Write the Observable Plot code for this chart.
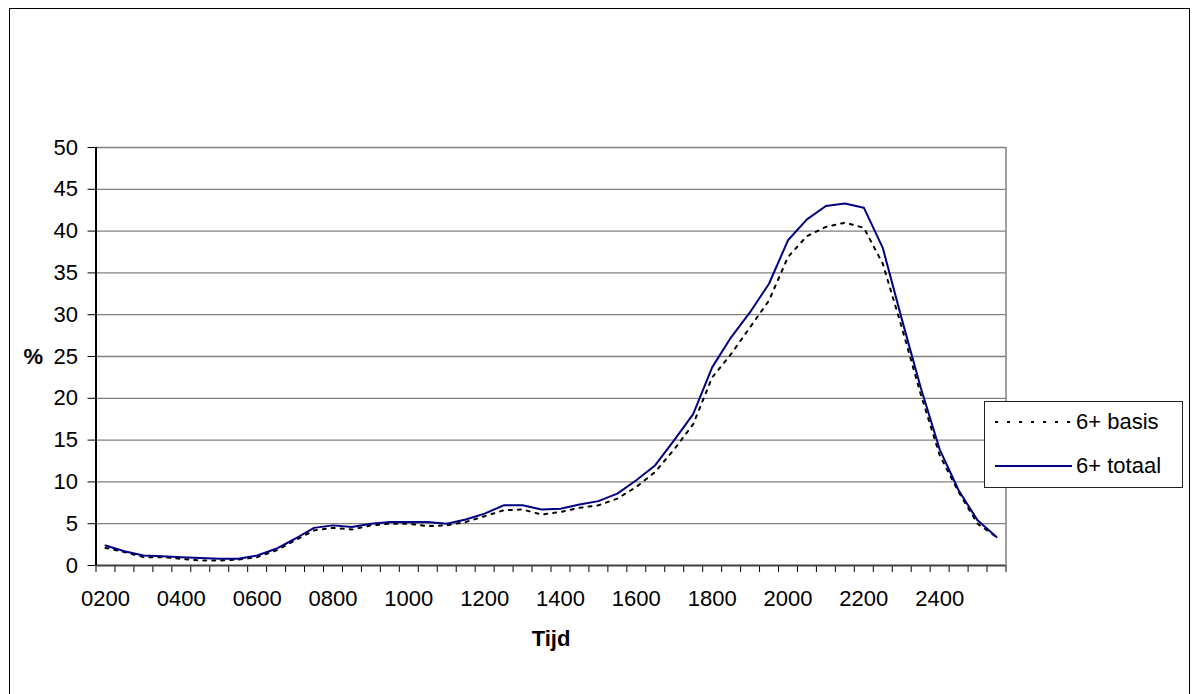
<!DOCTYPE html>
<html>
<head>
<meta charset="utf-8">
<script src="https://cdn.jsdelivr.net/npm/d3@7"></script>
<script src="https://cdn.jsdelivr.net/npm/@observablehq/plot@0.6"></script>
<style>
  html, body { margin: 0; padding: 0; background: #fff; }
  #wrap { position: relative; width: 1194px; height: 694px; overflow: hidden; font-family: "Liberation Sans", Arial, sans-serif; }
  #frame { position: absolute; left: 9px; top: 8px; width: 1181px; height: 700px; border: 1px solid #000; box-sizing: border-box; }
  #chart { position: absolute; left: 0; top: 0; }
  #legend { position: absolute; left: 984px; top: 401px; width: 199px; height: 87px; border: 1px solid #222; background: #fff; box-sizing: border-box; font-size: 22px; color: #000; }
  .item { position: absolute; left: 0; height: 30px; display: flex; align-items: center; }
  .item svg { margin-left: 10px; margin-right: 4px; }
</style>
</head>
<body>
<div id="wrap">
  <div id="frame"></div>
  <div id="chart"></div>
  <div id="legend"></div>
</div>
<script>
// Categories (half-hour slots)
const times = ["0200","0230","0300","0330","0400","0430","0500","0530",
               "0600","0630","0700","0730","0800","0830","0900","0930",
               "1000","1030","1100","1130","1200","1230","1300","1330",
               "1400","1430","1500","1530","1600","1630","1700","1730",
               "1800","1830","1900","1930","2000","2030","2100","2130",
               "2200","2230","2300","2330","2400","2430","2500","2530"];
// Shown tick labels
const tickLabels = ["0200","0400","0600","0800","1000","1200","1400","1600","1800","2000","2200","2400"];
// Y ticks
const yTicks = [0,5,10,15,20,25,30,35,40,45,50];
// Series names
const seriesNames = ["6+ basis","6+ totaal"];
// Series values (%)
const basis = [2.1,1.6,1.0,1.0,0.8,0.6,0.6,0.7,1.0,1.8,3.0,4.2,4.5,4.3,4.8,5.0,
               5.0,4.7,4.8,5.2,5.9,6.6,6.7,6.1,6.4,6.9,7.2,8.0,9.4,11.2,13.9,16.9,
               22.5,25.3,28.5,31.7,36.9,39.4,40.5,41.0,40.4,36.1,28.5,20.5,13.2,8.8,5.0,3.4];
const totaal = [2.4,1.7,1.2,1.1,1.0,0.9,0.8,0.8,1.2,2.0,3.2,4.5,4.8,4.6,5.0,5.2,
                5.2,5.2,5.0,5.5,6.2,7.2,7.2,6.7,6.8,7.3,7.7,8.6,10.2,12.0,15.0,18.1,
                23.7,27.3,30.3,33.7,38.9,41.4,43.0,43.3,42.8,38.0,29.5,21.3,13.9,9.0,5.4,3.4];

const rowsBasis = times.map((t, i) => ({t, v: basis[i]}));
const rowsTotaal = times.map((t, i) => ({t, v: totaal[i]}));
const idx = t => times.indexOf(t);
// category boundaries for tick marks (between categories)
const boundaries = d3.range(times.length + 1).map(i => i - 0.5);

const plot = Plot.plot({
  width: 1194,
  height: 694,
  marginLeft: 95.5,
  marginRight: 188.5,
  marginTop: 147,
  marginBottom: 129,
  style: { fontFamily: "'Liberation Sans', Arial, sans-serif", fontSize: "22px", background: "transparent", color: "#000", overflow: "visible" },
  x: { type: "linear", domain: [-0.5, times.length - 0.5], ticks: boundaries, tickSize: 7, tickFormat: () => "", label: null },
  y: { domain: [0, 50], ticks: yTicks, tickSize: 8, tickPadding: 10, label: null },
  marks: [
    Plot.ruleY(yTicks.filter(v => v > 0), { stroke: "#808080", strokeWidth: 1.3 }),
    Plot.ruleX([times.length - 0.5], { stroke: "#808080", strokeWidth: 1.5 }),
    Plot.ruleY([0], { stroke: "#404040", strokeWidth: 2 }),
    Plot.ruleX([-0.5], { stroke: "#000", strokeWidth: 2 }),
    Plot.line(rowsBasis, { x: d => idx(d.t), y: "v", stroke: "#000", strokeWidth: 2, strokeDasharray: "3,6" }),
    Plot.line(rowsTotaal, { x: d => idx(d.t), y: "v", stroke: "#000080", strokeWidth: 2 }),
    Plot.text(tickLabels, { x: d => idx(d), frameAnchor: "bottom", dy: 40, text: d => d }),
    Plot.text(["Tijd"], { frameAnchor: "bottom", dy: 80, text: d => d, fontWeight: "bold" }),
    Plot.text([25], { y: d => d, frameAnchor: "left", dx: -53, textAnchor: "end", text: () => "%", fontWeight: "bold" })
  ]
});
document.getElementById("chart").appendChild(plot);

// Legend
const legend = document.getElementById("legend");
const styles = [
  { stroke: "#000", dash: "3,9" },
  { stroke: "#000080", dash: null }
];
seriesNames.forEach((name, i) => {
  const item = document.createElement("div");
  item.className = "item";
  item.style.top = (i === 0 ? 5 : 49) + "px";
  const dash = styles[i].dash ? `stroke-dasharray="${styles[i].dash}"` : "";
  item.innerHTML = `<svg width="77" height="10"><line x1="0" x2="77" y1="5" y2="5" stroke="${styles[i].stroke}" stroke-width="2" ${dash}/></svg><span>${name}</span>`;
  legend.appendChild(item);
});
</script>
</body>
</html>
